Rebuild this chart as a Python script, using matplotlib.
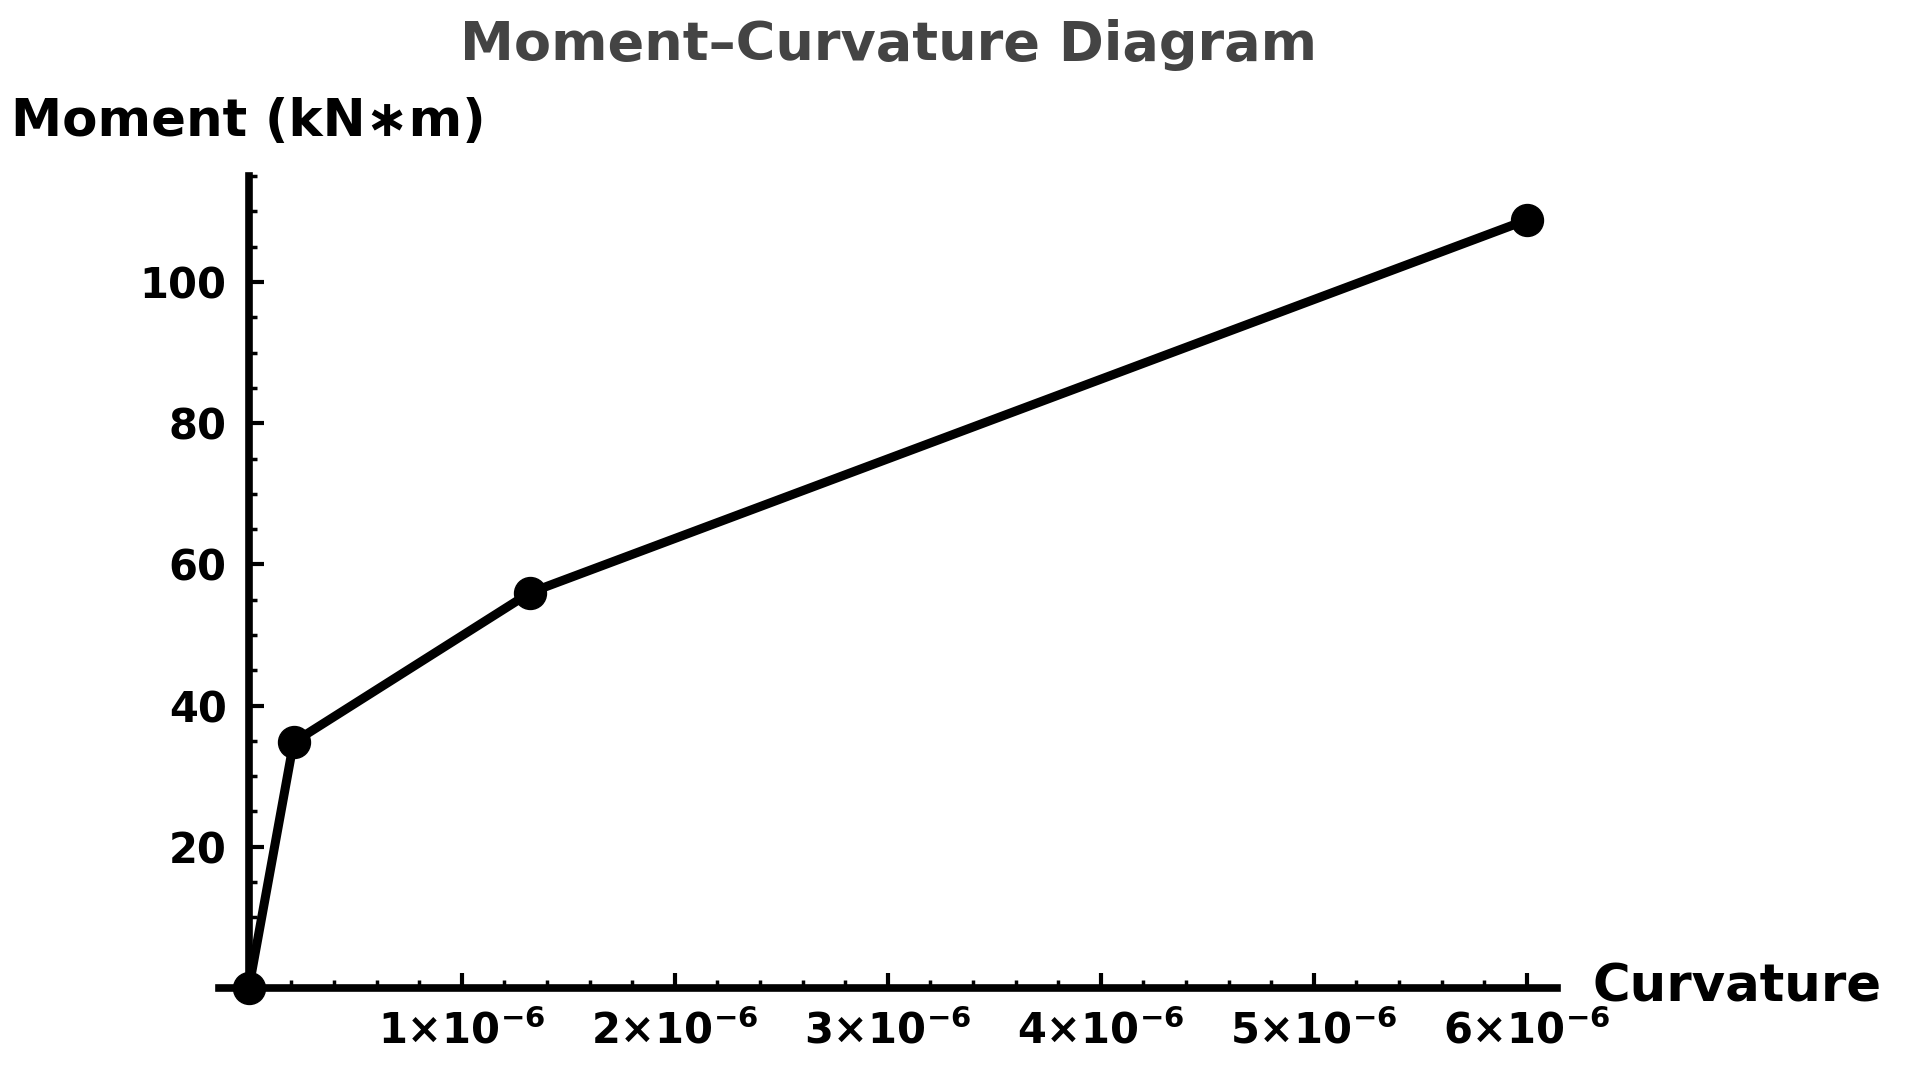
import matplotlib
matplotlib.use("Agg")
import matplotlib.pyplot as plt
from matplotlib.ticker import FixedLocator, FuncFormatter

plt.rcParams['font.family'] = ['DejaVu Sans']
plt.rcParams['mathtext.default'] = 'bf'

# data
curvature = [0.0, 0.21e-6, 1.32e-6, 6.0e-6]
moment = [0.0, 34.8, 56.0, 108.8]

x_major = [1e-6, 2e-6, 3e-6, 4e-6, 5e-6, 6e-6]
x_minor = [i * 0.2e-6 for i in range(1, 31)]
y_major = [20, 40, 60, 80, 100]
y_minor = [5 * i for i in range(1, 24)]

fig = plt.figure(figsize=(19.08, 10.77), dpi=100)
ax = fig.add_axes([0.1148, 0.0794, 0.701, 0.757])

ax.plot(curvature, moment, color='black', lw=6.5, marker='o', ms=23,
        clip_on=False, zorder=5)

ax.set_xlim(-0.14e-6, 6.14e-6)
ax.set_ylim(-0.5, 115)

for side in ['top', 'right']:
    ax.spines[side].set_visible(False)
ax.spines['left'].set_position(('data', 0))
ax.spines['bottom'].set_position(('data', 0))
for side in ['left', 'bottom']:
    ax.spines[side].set_linewidth(5.5)

ax.xaxis.set_major_locator(FixedLocator(x_major))
ax.xaxis.set_minor_locator(FixedLocator(x_minor))
ax.yaxis.set_major_locator(FixedLocator(y_major))
ax.yaxis.set_minor_locator(FixedLocator(y_minor))

ax.xaxis.set_major_formatter(FuncFormatter(
    lambda v, p: f"{round(v * 1e6)}×10$^{{-6}}$"))

ax.tick_params(which='major', direction='in', length=11, width=3,
               labelsize=30, pad=16)
ax.tick_params(which='minor', direction='in', length=6, width=2.5)
for lab in ax.get_xticklabels() + ax.get_yticklabels():
    lab.set_fontweight('bold')

fig.text(0.4655, 0.958, "Moment–Curvature Diagram", ha='center', va='center',
         fontsize=39, fontweight='bold', color='#444444')
fig.text(0.006, 0.887, "Moment (kN∗m)", ha='left', va='center',
         fontsize=37, fontweight='bold', color='black')
ax.annotate("Curvature", xy=(1, 0), xycoords=('axes fraction', 'data'),
            xytext=(26, 0), textcoords='offset points', ha='left', va='center',
            fontsize=37, fontweight='bold', color='black', annotation_clip=False)

fig.savefig("out.png", dpi=100)
